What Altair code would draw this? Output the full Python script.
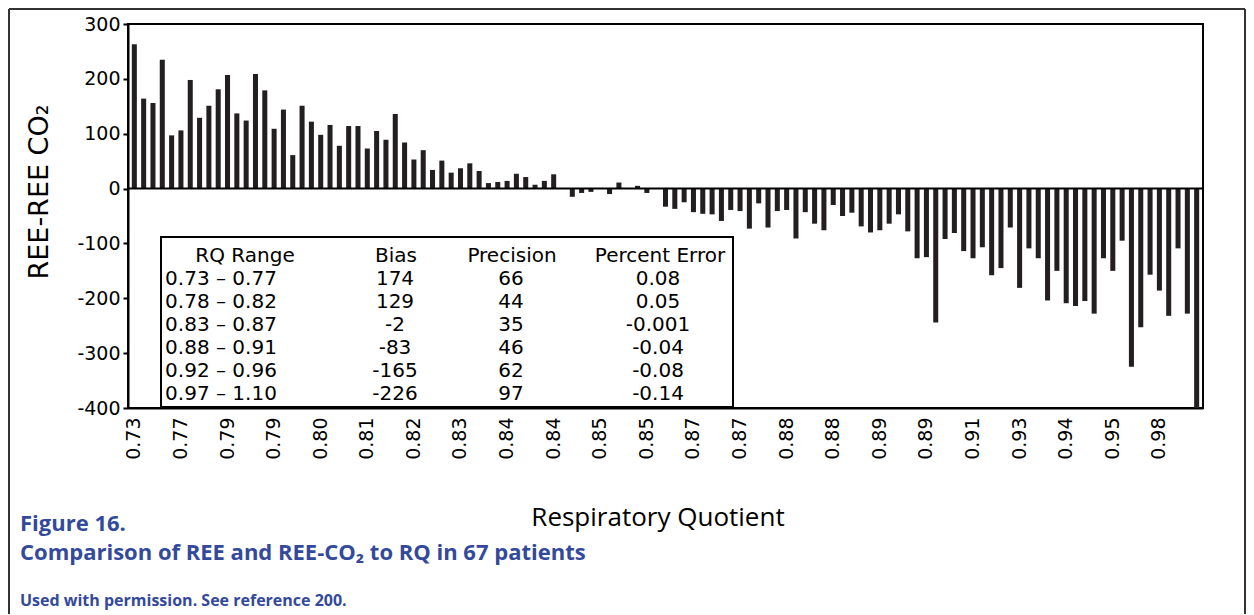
import altair as alt
import pandas as pd

# REE - REE-CO2 differences, one bar per measurement, sorted by RQ
diffs = [263, 164, 156, 235, 97, 106, 198, 129, 151, 181,
         207, 137, 124, 209, 179, 109, 144, 61, 151, 122,
         98, 116, 78, 114, 114, 73, 105, 89, 136, 84,
         53, 70, 34, 51, 29, 37, 46, 32, 10, 12,
         14, 27, 21, 7, 14, 26, 0, -15, -8, -6,
         0, -10, 11, 0, 5, -8, 0, -33, -37, -25,
         -43, -46, -47, -59, -39, -41, -73, -27, -71, -41,
         -39, -91, -43, -64, -76, -30, -50, -44, -69, -80,
         -76, -64, -47, -78, -127, -125, -244, -92, -81, -114,
         -127, -107, -158, -145, -71, -181, -109, -127, -204, -150,
         -209, -214, -205, -228, -127, -150, -95, -325, -253, -157,
         -186, -232, -109, -228, -400]

# RQ labels shown under every fifth bar
rq_tick_labels = ["0.73", "0.77", "0.79", "0.79", "0.80", "0.81", "0.82", "0.83",
                  "0.84", "0.84", "0.85", "0.85", "0.87", "0.87", "0.88", "0.88",
                  "0.89", "0.89", "0.91", "0.93", "0.94", "0.95", "0.98"]
y_ticks = [-400, -300, -200, -100, 0, 100, 200, 300]

# inset table
tbl_headers = ["RQ Range", "Bias", "Precision", "Percent Error"]
tbl_range = ["0.73 \u2013 0.77", "0.78 \u2013 0.82", "0.83 \u2013 0.87",
             "0.88 \u2013 0.91", "0.92 \u2013 0.96", "0.97 \u2013 1.10"]
tbl_bias = ["174", "129", "-2", "-83", "-165", "-226"]
tbl_precision = ["66", "44", "35", "46", "62", "97"]
tbl_pct = ["0.08", "0.05", "-0.001", "-0.04", "-0.08", "-0.14"]

df = pd.DataFrame({"idx": list(range(len(diffs))), "val": diffs})

label_expr = "[" + ",".join("'%s'" % t for t in rq_tick_labels) + "][floor(datum.value / 5)]"

FONT = "DejaVu Sans"
BLUE = "#33499b"
TITLE_FONT = "Open Sans"

bars = alt.Chart(df).mark_bar(color="#231f20").encode(
    x=alt.X("idx:O", title=None,
            scale=alt.Scale(paddingInner=0.46, paddingOuter=0.41),
            axis=alt.Axis(values=list(range(0, len(diffs), 5)), labelExpr=label_expr,
                          labelAngle=-90, labelFont=FONT, labelFontSize=19,
                          labelColor="black", ticks=False, labelPadding=9,
                          domainColor="black", domainWidth=2)),
    y=alt.Y("val:Q", title=None,
            scale=alt.Scale(domain=[-400, 300], nice=False),
            axis=alt.Axis(values=y_ticks, labelExpr="'' + datum.value", grid=False,
                          tickSize=5, tickColor="black", tickWidth=2,
                          labelFont=FONT, labelFontSize=19, labelColor="black",
                          labelPadding=3, domainColor="black", domainWidth=2)),
)

zero = alt.Chart(pd.DataFrame({"z": [0]})).mark_rule(color="black", strokeWidth=2).encode(y="z:Q")

box = alt.Chart(pd.DataFrame({"a": [0]})).mark_rect(
    fill="white", stroke="black", strokeWidth=2
).encode(x=alt.value(33), x2=alt.value(605), y=alt.value(213), y2=alt.value(383))

one = pd.DataFrame({"a": [0]})

def txt(text, x, y, size=20, font=FONT, color="black", align="center", weight="normal",
        angle=0, line_height=23):
    return alt.Chart(one).mark_text(
        font=font, fontSize=size, color=color, align=align, baseline="middle",
        fontWeight=weight, angle=angle, lineHeight=line_height
    ).encode(x=alt.value(x), y=alt.value(y), text=alt.value(text))

head_x = [117, 268, 384, 532]
row_x = [93, 267, 383, 530]
table_layers = [txt(h, hx, 232) for h, hx in zip(tbl_headers, head_x)]
for col, cx in zip([tbl_range, tbl_bias, tbl_precision, tbl_pct], row_x):
    table_layers.append(txt(col, cx, 255))

ytitle = txt("REE-REE CO\u2082", -88, 168, size=27, angle=270)
xtitle = txt("Respiratory Quotient", 530, 494, size=26, font="Open Sans")
fig = txt("Figure 16.", -108, 500, size=22, font=TITLE_FONT, color=BLUE, align="left", weight="bold")
cap = txt("Comparison of REE and REE-CO\u2082 to RQ in 67 patients", -108, 529, size=22,
          font=TITLE_FONT, color=BLUE, align="left", weight="bold")
src = txt("Used with permission. See reference 200.", -108, 577, size=16,
          font=TITLE_FONT, color=BLUE, align="left", weight="bold")

frame_left = alt.Chart(one).mark_rule(color="#333333", strokeWidth=2).encode(
    x=alt.value(-119), y=alt.value(-15), y2=alt.value(590))
frame_top = alt.Chart(one).mark_rule(color="#333333", strokeWidth=2).encode(
    x=alt.value(-119), x2=alt.value(1117), y=alt.value(-15))
frame_right = alt.Chart(one).mark_rule(color="#333333", strokeWidth=2).encode(
    x=alt.value(1117), y=alt.value(-15), y2=alt.value(590))

chart = alt.layer(
    bars, zero, box, *table_layers, ytitle, xtitle, fig, cap, src,
    frame_left, frame_top, frame_right
).properties(
    width=1075, height=384,
    autosize=alt.AutoSizeParams(type="none"),
    padding={"left": 120, "top": 16, "right": 43, "bottom": 206},
).configure_view(stroke="black", strokeWidth=2)

chart.save("out.html", embed_options={"renderer": "svg", "actions": False})
